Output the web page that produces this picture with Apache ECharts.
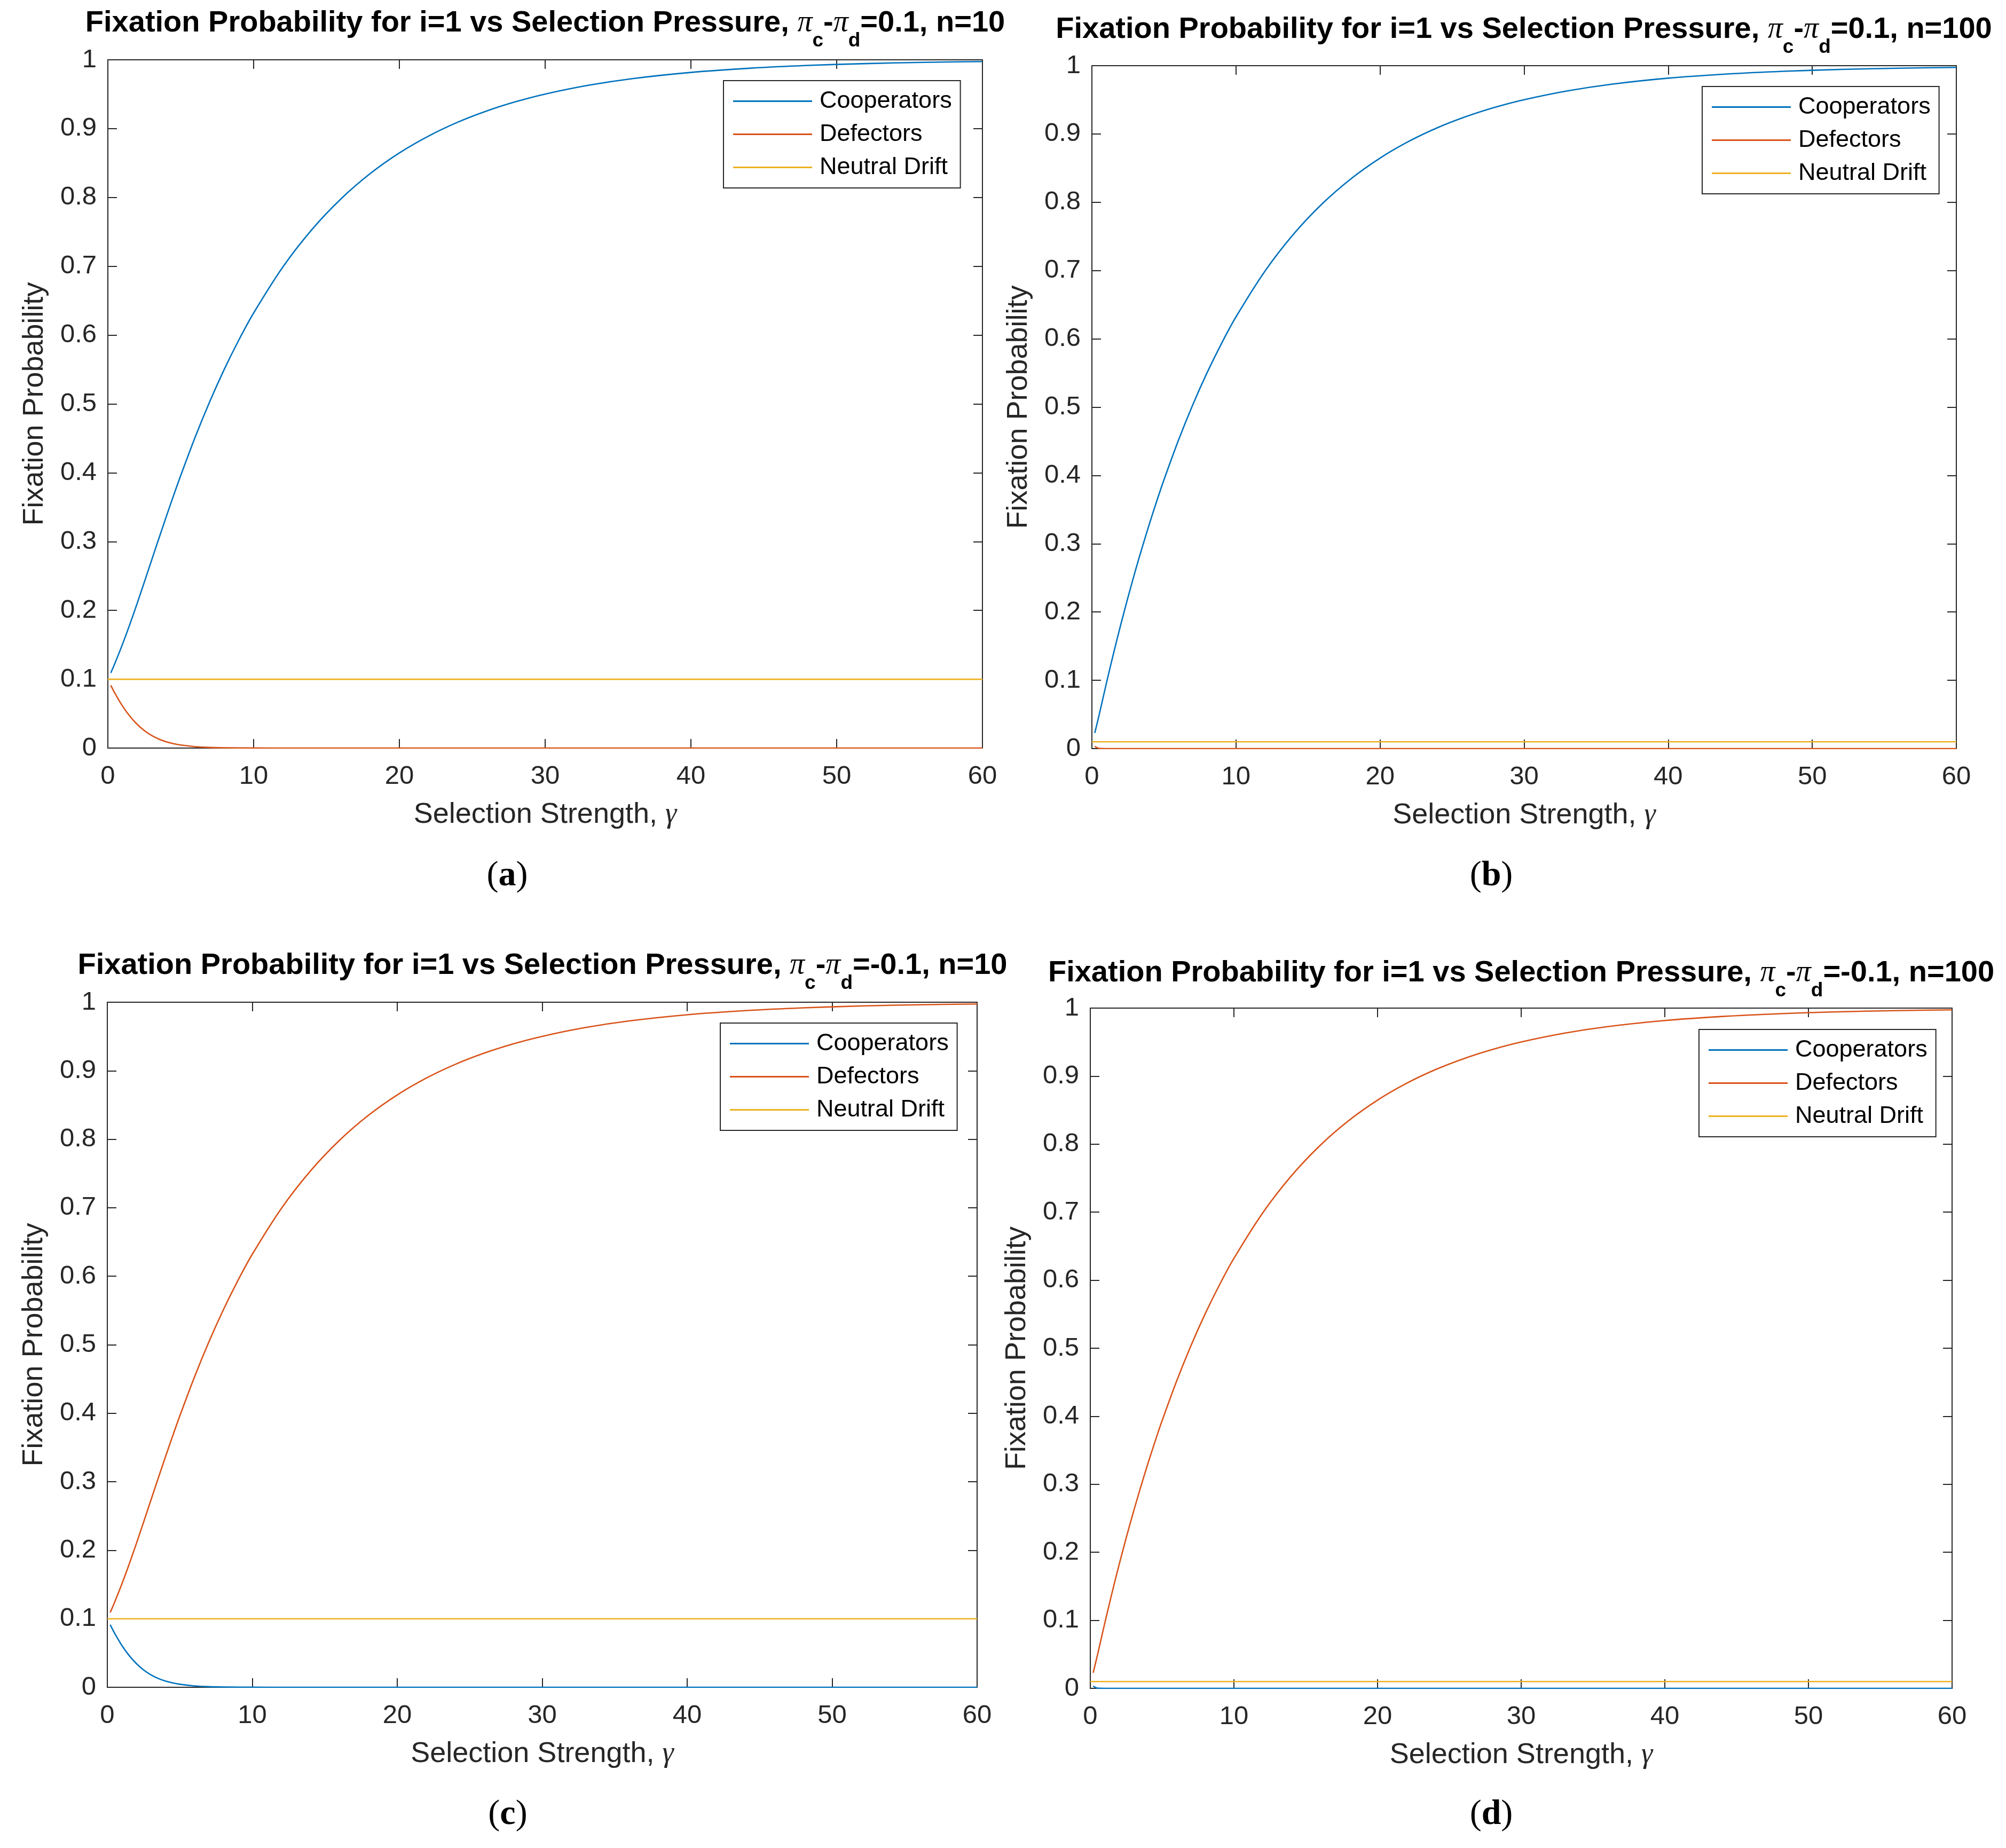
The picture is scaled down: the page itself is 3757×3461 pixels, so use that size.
<!DOCTYPE html>
<html lang="en">
<head>
    <meta charset="UTF-8">
    <title>Fixation Probability vs Selection Pressure</title>
    <script type="text/javascript" src="https://cdn.jsdelivr.net/npm/echarts@6/dist/echarts.min.js"></script>
    <style>
        * {
            padding: 0;
            margin: 0;
        }

        html, body {
            background-color: #fff;
        }

        #chart {
            width: 3757px;
            height: 3461px;
        }
    </style>
</head>
<body>
<div id="chart"></div>
<script>

    // selection strength samples (x)
    const gamma = [0.2, 0.5, 1, 1.5, 2, 2.5, 3, 3.5, 4, 4.5, 5, 6, 7, 8, 9, 10, 12, 14, 16, 18,
        20, 22, 24, 26, 28, 30, 33, 36, 40, 44, 48, 52, 56, 60]

    // favoured strategy, n=10
    const rise10 = [0.1092, 0.1240, 0.1506, 0.1793, 0.2096, 0.2410, 0.2728, 0.3045, 0.3358, 0.3664,
        0.3961, 0.4523, 0.5039, 0.5509, 0.5935, 0.6321, 0.6988, 0.7534, 0.7981, 0.8347,
        0.8647, 0.8892, 0.9093, 0.9257, 0.9392, 0.9502, 0.9631, 0.9727, 0.9817, 0.9877,
        0.9918, 0.9945, 0.9963, 0.9975]

    // favoured strategy, n=100
    const rise100 = [0.0229, 0.0491, 0.0952, 0.1393, 0.1813, 0.2212, 0.2592, 0.2953, 0.3297, 0.3624,
        0.3935, 0.4512, 0.5034, 0.5507, 0.5934, 0.6321, 0.6988, 0.7534, 0.7981, 0.8347,
        0.8647, 0.8892, 0.9093, 0.9257, 0.9392, 0.9502, 0.9631, 0.9727, 0.9817, 0.9877,
        0.9918, 0.9945, 0.9963, 0.9975]

    // disfavoured strategy, n=10
    const fall10 = [0.0913, 0.0790, 0.0612, 0.0465, 0.0347, 0.0254, 0.0183, 0.0130, 0.0092, 0.0064,
        0.0044, 0.0020, 0.0009, 0.0004, 0.0002, 0.0001, 0, 0, 0, 0,
        0, 0, 0, 0, 0, 0, 0, 0, 0, 0,
        0, 0, 0, 0]

    // disfavoured strategy, n=100
    const fall100 = [0.0032, 0.0003, 0, 0, 0, 0, 0, 0, 0, 0,
        0, 0, 0, 0, 0, 0, 0, 0, 0, 0,
        0, 0, 0, 0, 0, 0, 0, 0, 0, 0,
        0, 0, 0, 0]

    // neutral drift = 1/n
    const driftX = [0, 60]
    const drift10 = [0.1, 0.1]
    const drift100 = [0.01, 0.01]

    const names = ['Cooperators', 'Defectors', 'Neutral Drift']
    const xTicks = {min: 0, max: 60, interval: 10}
    const yTicks = {min: 0, max: 1, interval: 0.1}
    const titleHead = 'Fixation Probability for i=1 vs Selection Pressure, '
    const titleTails = ['=0.1, n=10', '=0.1, n=100', '=-0.1, n=10', '=-0.1, n=100']
    const tags = ['a', 'b', 'c', 'd']

    const colors = ['#0072BD', '#D95319', '#EDB120']
    const axisColor = '#262626'
    const sans = 'Liberation Sans, Arial, sans-serif'
    const serif = 'Liberation Serif, Times New Roman, serif'

    // layout of the four sub-figures
    const panels = [
        {grid: {left: 202, top: 112, width: 1638, height: 1289}, lines: [rise10, fall10], drift: drift10,
            titleX: 1021, titleY: -8, legend: [1355, 151], tag: [950, 1608]},
        {grid: {left: 2045, top: 123, width: 1619, height: 1279}, lines: [rise100, fall100], drift: drift100,
            titleX: 2854, titleY: 4, legend: [3188, 162], tag: [2793, 1608]},
        {grid: {left: 201, top: 1877, width: 1629, height: 1283}, lines: [fall10, rise10], drift: drift10,
            titleX: 1016, titleY: 1757, legend: [1349, 1916], tag: [951, 3366]},
        {grid: {left: 2042, top: 1888, width: 1614, height: 1274}, lines: [fall100, rise100], drift: drift100,
            titleX: 2849, titleY: 1771, legend: [3182, 1928], tag: [2793, 3366]}
    ]

    const pairs = function (xs, ys) {
        return xs.map((x, i) => [x, ys[i]])
    }

    const axisLine = {show: true, onZero: false, lineStyle: {color: axisColor, width: 2}}
    const axisTick = {show: true, inside: true, length: 17, lineStyle: {color: axisColor, width: 2}}

    let grid = [], xAxis = [], yAxis = [], series = [], legend = [], title = []

    panels.forEach((p, i) => {
        grid.push(Object.assign({containLabel: false}, p.grid))

        xAxis.push(Object.assign({
            type: 'value', gridIndex: i, position: 'bottom',
            axisLine: axisLine, axisTick: axisTick, splitLine: {show: false},
            axisLabel: {fontSize: 49, color: axisColor, fontFamily: sans, margin: 29},
            name: '{t|Selection Strength, }{g|γ}', nameLocation: 'middle', nameGap: 98,
            nameTextStyle: {
                fontSize: 54, color: axisColor, fontFamily: sans,
                rich: {
                    t: {fontSize: 54, color: axisColor, fontFamily: sans},
                    g: {fontSize: 54, color: axisColor, fontFamily: serif, fontStyle: 'italic'}
                }
            }
        }, xTicks))

        yAxis.push(Object.assign({
            type: 'value', gridIndex: i, position: 'left',
            axisLine: axisLine, axisTick: axisTick, splitLine: {show: false},
            axisLabel: {fontSize: 49, color: axisColor, fontFamily: sans, margin: 21},
            name: 'Fixation Probability', nameLocation: 'middle', nameGap: 110,
            nameTextStyle: {fontSize: 54, color: axisColor, fontFamily: sans}
        }, yTicks))

        p.lines.forEach((ys, k) => {
            series.push({
                type: 'line', name: names[k], xAxisIndex: i, yAxisIndex: i,
                data: pairs(gamma, ys), symbol: 'none', smooth: 0.3,
                lineStyle: {width: 2.6, color: colors[k]}, itemStyle: {color: colors[k]}, z: 3
            })
        })
        series.push({
            type: 'line', name: names[2], xAxisIndex: i, yAxisIndex: i,
            data: pairs(driftX, p.drift), symbol: 'none',
            lineStyle: {width: 2.6, color: colors[2]}, itemStyle: {color: colors[2]}, z: 3
        })

        legend.push({
            left: p.legend[0], top: p.legend[1], orient: 'vertical', data: names,
            icon: 'rect', itemWidth: 148, itemHeight: 3, itemGap: 17, padding: [16, 16, 16, 18],
            backgroundColor: '#fff', borderColor: axisColor, borderWidth: 2,
            textStyle: {fontSize: 45, color: '#000', fontFamily: sans, padding: [0, 0, 0, 9]}
        })

        title.push({
            left: p.titleX, top: p.titleY, textAlign: 'center', padding: 0,
            text: '{t|' + titleHead + '}{g|π}{s|c}{t|-}{g|π}{s|d}{t|' + titleTails[i] + '}',
            textStyle: {
                rich: {
                    t: {fontSize: 56, fontWeight: 'bold', color: '#000', fontFamily: sans},
                    g: {fontSize: 56, fontStyle: 'italic', fontWeight: 'normal', color: '#000', fontFamily: serif},
                    s: {fontSize: 37, fontWeight: 'bold', color: '#000', fontFamily: sans, padding: [66, 0, 0, 0]}
                }
            }
        })

        title.push({
            left: p.tag[0], top: p.tag[1], textAlign: 'center', padding: 0,
            text: '{p|(}{b|' + tags[i] + '}{p|)}',
            textStyle: {
                rich: {
                    p: {fontSize: 66, fontWeight: 'normal', color: '#000', fontFamily: serif},
                    b: {fontSize: 66, fontWeight: 'bold', color: '#000', fontFamily: serif}
                }
            }
        })
    })

    // mirrored axes: box with inward ticks on top and right
    panels.forEach((p, i) => {
        xAxis.push(Object.assign({
            type: 'value', gridIndex: i, position: 'top',
            axisLine: axisLine, axisTick: axisTick, axisLabel: {show: false}, splitLine: {show: false}
        }, xTicks))
        yAxis.push(Object.assign({
            type: 'value', gridIndex: i, position: 'right',
            axisLine: axisLine, axisTick: axisTick, axisLabel: {show: false}, splitLine: {show: false}
        }, yTicks))
    })

    const chart = echarts.init(document.getElementById('chart'))
    chart.setOption({
        animation: false,
        backgroundColor: '#fff',
        title: title,
        legend: legend,
        grid: grid,
        xAxis: xAxis,
        yAxis: yAxis,
        series: series
    })

</script>
</body>
</html>
